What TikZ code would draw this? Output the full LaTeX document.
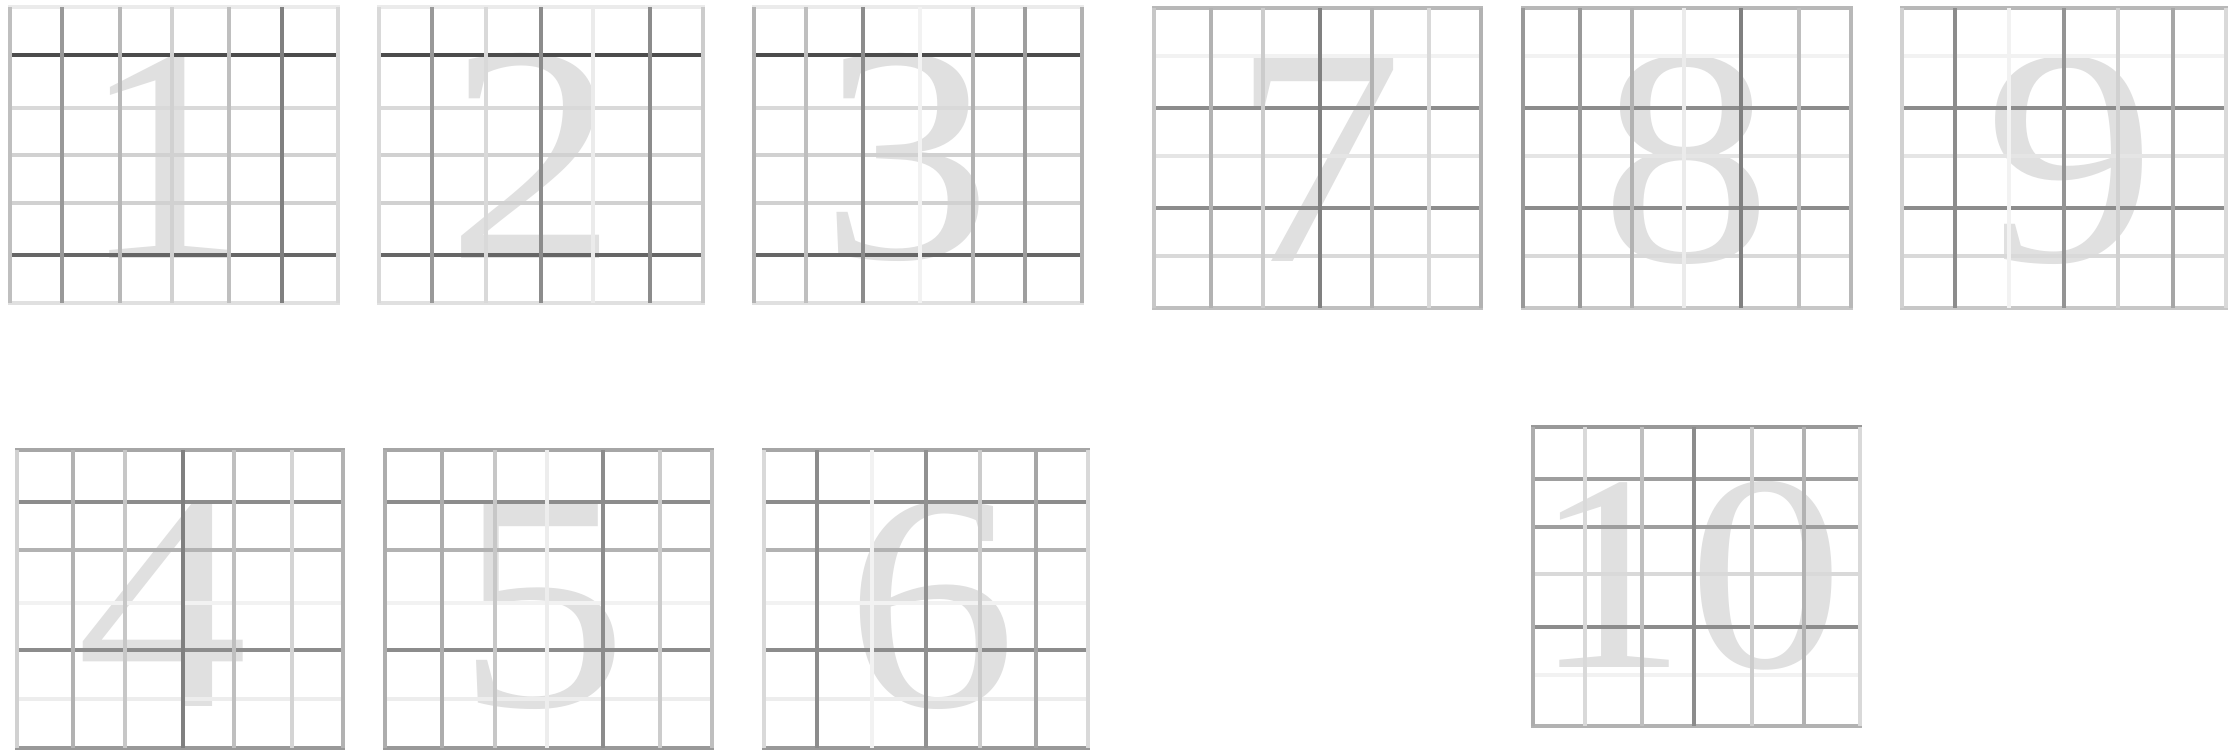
\documentclass[tikz,border=0pt]{standalone}
\usepackage{fontspec}
\newfontfamily\digitfont{Liberation Serif}
\newcommand\wide[1]{\scalebox{1.11}[1]{#1}}
\begin{document}
\begin{tikzpicture}[x=1pt,y=-1pt,
  gridline/.style={line width=3.6pt},
  digit/.style={anchor=base,inner sep=0pt,text depth=0pt,text=black!12,font=\digitfont\fontsize{310}{310}\selectfont},
  smalldigit/.style={digit,font=\digitfont\fontsize{280}{280}\selectfont}]
\useasboundingbox[fill=white] (0,0) rectangle (2234,750);
\newcommand\gridpanel[6]{%
  \foreach \p/\d in {#2} \draw[gridline,black!\d] (#3,\p) -- (#4,\p);
  \foreach \p/\d in {#1} \draw[gridline,black!\d] (\p,#5) -- (\p,#6);
}
% digits
\node[digit] (d1) at (166,258) {\wide{1}};
\node[digit] (d2) at (533,258) {\wide{2}};
\node[digit] (d3) at (907,258) {\wide{3}};
\node[digit] (d7) at (1318,261) {\wide{7}};
\node[digit] (d8) at (1687,261) {\wide{8}};
\node[digit] (d9) at (2070,261) {\wide{9}};
\node[digit] (d4) at (163,706) {\wide{4}};
\node[digit] (d5) at (543,706) {\wide{5}};
\node[digit] (d6) at (932,706) {\wide{6}};
\node[smalldigit] (d10) at (1688,667) {\wide{10}};
% row 1, panels 1-3
\gridpanel{10/25,62/40,120/28,172/18,229/25,282/50,338/15}
  {7/8,55/70,108/15,155/18,203/18,255/60,303/12}{8}{340}{7}{303}
\gridpanel{379/15,432/40,486/15,541/45,593/8,650/45,703/20}
  {7/8,55/70,108/15,155/18,203/18,255/60,303/12}{377}{705}{7}{303}
\gridpanel{754/30,806/25,863/45,920/5,973/30,1025/38,1082/30}
  {7/8,55/70,108/15,155/18,203/18,255/60,303/12}{752}{1084}{7}{303}
% row 1, panels 7-9
\gridpanel{1154/22,1211/30,1263/20,1320/50,1372/30,1429/15,1481/30}
  {8/28,56/5,108/45,156/10,208/45,256/15,308/25}{1152}{1483}{8}{308}
\gridpanel{1523/40,1580/40,1632/30,1684/8,1741/50,1799/25,1851/28}
  {8/28,56/5,108/45,156/10,208/45,256/15,308/22}{1521}{1853}{8}{308}
\gridpanel{1902/18,1955/45,2009/5,2064/42,2118/18,2173/35,2226/15}
  {8/28,56/5,108/45,156/10,208/45,256/15,308/22}{1900}{2228}{8}{308}
% row 2, panels 4-6
\gridpanel{17/18,73/30,125/22,183/50,234/25,292/17,343/30}
  {450/35,502/45,550/30,603/5,650/45,699/7,748/40}{15}{345}{450}{748}
\gridpanel{385/32,442/32,495/22,547/7,603/45,660/20,712/25}
  {450/35,502/45,550/30,603/5,650/45,699/7,748/40}{383}{714}{450}{748}
\gridpanel{764/15,817/45,872/5,926/43,980/20,1036/35,1088/15}
  {450/35,502/45,550/30,603/5,650/45,699/7,748/40}{762}{1090}{450}{748}
% panel 10
\gridpanel{1533/32,1585/15,1642/25,1694/45,1752/20,1804/30,1860/15}
  {427/40,479/38,527/38,574/15,627/45,675/5,726/30}{1531}{1862}{427}{726}
\end{tikzpicture}
\end{document}
